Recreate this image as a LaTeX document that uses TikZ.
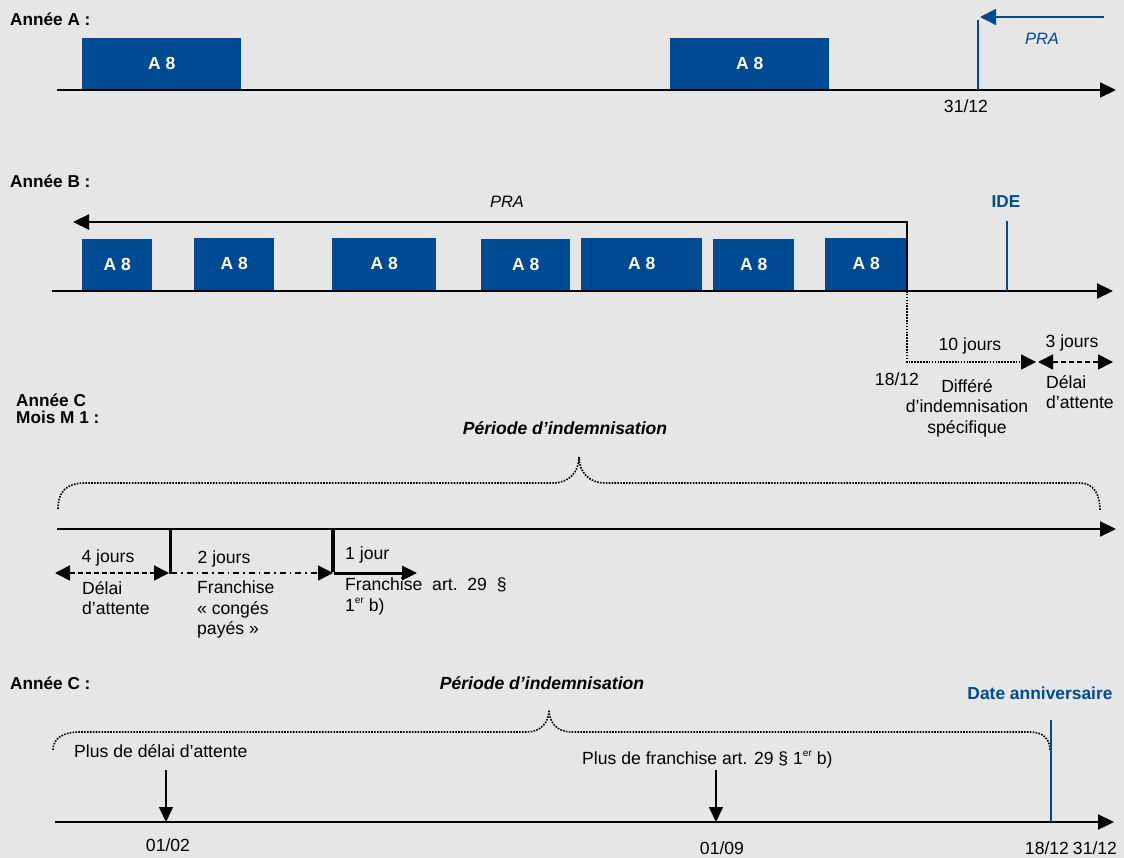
\documentclass[tikz,border=0pt]{standalone}
\usepackage{fontspec}
\setmainfont{Liberation Sans}
\usetikzlibrary{arrows.meta}
\definecolor{bg}{HTML}{E6E6E6}
\definecolor{dblue}{HTML}{004A94}
\newcommand{\erx}{\raisebox{0.45em}{\fontsize{10}{10}\selectfont er}}
\begin{document}
\begin{tikzpicture}[x=1pt,y=-1pt,
  font=\fontsize{17.6}{20.5}\selectfont,
  axis/.style={line width=2.2pt,-{Triangle[length=16pt,width=15pt]}},
  blk/.style={fill=dblue,draw=none,inner sep=0pt,anchor=south west,text=white,font=\fontsize{17.5}{20}\selectfont\bfseries},
  head/.style={font=\fontsize{17.2}{19}\selectfont\bfseries,anchor=base west,inner sep=0pt},
  lbl/.style={anchor=base,inner sep=0pt},
  lblw/.style={anchor=base west,inner sep=0pt},
  dots/.style={line width=1.6pt,dash pattern=on 1.6pt off 1.3pt},
]
\fill[bg] (0,0) rectangle (1124,858);
\useasboundingbox (0,0) rectangle (1124,858);

% ---------------- Annee A
\node[head] (tA) at (10,26) {Année A :};
\node[blk,minimum width=159pt,minimum height=52pt] (a1) at (82,90) {A 8};
\node[blk,minimum width=159pt,minimum height=52pt] (a2) at (670,90) {A 8};
\coordinate (A0) at (57,90);
\coordinate (A1) at (1116,90);
\draw[axis] (A0) -- (A1);
\coordinate (Ab) at (978,90);
\coordinate (At) at (978,20);
\draw[dblue,line width=2.2pt] (Ab) -- (At);
\coordinate (Ps) at (1104,17);
\coordinate (Pe) at (980,17);
\draw[dblue,line width=1.6pt,-{Triangle[length=16pt,width=16pt]}] (Ps) -- (Pe);
\node[lbl,text=dblue,font=\fontsize{16.5}{19}\selectfont\itshape] (pA) at (1042,45) {PRA};
\node[lbl] (d3112a) at (966,113) {31/12};

% ---------------- Annee B
\node[head] (tB) at (10,188) {Année B :};
\node[blk,minimum width=70pt,minimum height=51pt] (b1) at (82,290) {A 8};
\node[blk,minimum width=80pt,minimum height=52pt] (b2) at (194,290) {A 8};
\node[blk,minimum width=104pt,minimum height=52pt] (b3) at (332,290) {A 8};
\node[blk,minimum width=89pt,minimum height=51pt] (b4) at (481,290) {A 8};
\node[blk,minimum width=121pt,minimum height=52pt] (b5) at (581,290) {A 8};
\node[blk,minimum width=81pt,minimum height=51pt] (b6) at (713,290) {A 8};
\node[blk,minimum width=82pt,minimum height=52pt] (b7) at (825,290) {A 8};
\coordinate (B0) at (52,291);
\coordinate (B1) at (1113,291);
\draw[axis] (B0) -- (B1);
\coordinate (Bv) at (907,291);
\coordinate (Bc) at (907,222);
\coordinate (Bt) at (73,222);
\draw[line width=2.2pt,-{Triangle[length=16pt,width=15pt]}] (Bv) -- (Bc) -- (Bt);
\node[lbl,font=\fontsize{16.5}{19}\selectfont\itshape] (pB) at (507,208) {PRA};
\node[lbl,text=dblue,font=\fontsize{17.2}{19}\selectfont\bfseries] (ide) at (1006,208) {IDE};
\coordinate (Ib) at (1007,291);
\coordinate (It) at (1007,221);
\draw[dblue,line width=2.6pt] (Ib) -- (It);
\coordinate (Dc) at (907,362);
\coordinate (De) at (1036,362);
\draw[dots,-{Triangle[length=15pt,width=15pt]}] (Bv) -- (Dc) -- (De);
\coordinate (Ts) at (1038,362);
\coordinate (Te) at (1113,362);
\draw[line width=1.6pt,dash pattern=on 5pt off 3pt,{Triangle[length=15pt,width=15pt]}-{Triangle[length=15pt,width=15pt]}] (Ts) -- (Te);
\node[lbl] (j10) at (970,351) {10 jours};
\node[lbl] (j3) at (1072,348) {3 jours};
\node[lbl] (d1812b) at (897,385) {18/12};
\node[lbl,align=center,anchor=north] (diff) at (967,379) {Différé\\d’indemnisation\\spécifique};
\node[lbl,align=left,anchor=north west] (delB) at (1046,375) {Délai\\d’attente};

% ---------------- Annee C mois M1
\node[head,align=left,anchor=north west] (tC1) at (16,394) {Année C\\[-2pt]Mois M 1 :};
\node[lbl,font=\fontsize{17.6}{20}\selectfont\bfseries\itshape] (per1) at (565,434) {Période d’indemnisation};
\draw[dots] (58,509) .. controls (58,492) and (66,483) .. (85,483) -- (553,483)
  .. controls (569,483) and (579,472) .. (579,457)
  .. controls (579,472) and (589,483) .. (605,483) -- (1080,483)
  .. controls (1094,483) and (1100,495) .. (1100,510);
\coordinate (C0) at (57,529);
\coordinate (C1) at (1116,529);
\draw[axis] (C0) -- (C1);
\coordinate (v1t) at (170,529);
\coordinate (v1b) at (170,574);
\draw[line width=3pt] (v1t) -- (v1b);
\coordinate (v2t) at (333,529);
\coordinate (v2b) at (333,572);
\draw[line width=4pt] (v2t) -- (v2b);
\coordinate (q0) at (55,573);
\coordinate (q1) at (169,573);
\draw[line width=1.6pt,dash pattern=on 5pt off 3pt,{Triangle[length=15pt,width=15pt]}-{Triangle[length=15pt,width=15pt]}] (q0) -- (q1);
\coordinate (q2) at (171,573);
\coordinate (q3) at (333,573);
\draw[line width=1.4pt,dash pattern=on 6pt off 4pt on 1.5pt off 4pt,-{Triangle[length=15pt,width=15pt]}] (q2) -- (q3);
\coordinate (q4) at (334,573);
\coordinate (q5) at (417,573);
\draw[line width=3pt,-{Triangle[length=15pt,width=14pt]}] (q4) -- (q5);
\node[lbl] (j4) at (108,562) {4 jours};
\node[lbl] (j2) at (224,563) {2 jours};
\node[lblw] (j1) at (345,559) {1 jour};
\node[lblw,align=left,anchor=north west] (delC) at (82,581) {Délai\\d’attente};
\node[lblw,align=left,anchor=north west] (fcp) at (197,581) {Franchise\\«~congés\\payés~»};
\node[lblw,align=left,anchor=north west] (f29) at (345,578) {Franchise\ \ art.\ \ 29\ \ §\\1\erx{} b)};

% ---------------- Annee C
\node[head] (tC) at (10,689) {Année C :};
\node[lbl,font=\fontsize{17.6}{20}\selectfont\bfseries\itshape] (per2) at (542,689) {Période d’indemnisation};
\node[lbl,text=dblue,font=\fontsize{17.4}{19}\selectfont\bfseries] (dann) at (1040,699) {Date anniversaire};
\draw[dots] (53,750) .. controls (53,739) and (62,732) .. (80,732) -- (527,732)
  .. controls (541,732) and (549,722) .. (549,710)
  .. controls (549,722) and (557,732) .. (571,732) -- (1030,732)
  .. controls (1044,732) and (1050,740) .. (1050,750);
\node[lblw] (pd) at (74,757) {Plus de délai d’attente};
\node[lblw] (pf) at (582,764) {Plus de franchise art. 29 § 1\erx{} b)};
\coordinate (E0) at (55,822);
\coordinate (E1) at (1114,822);
\draw[axis] (E0) -- (E1);
\coordinate (r1t) at (166,770);
\coordinate (r1b) at (166,822);
\draw[line width=1.6pt,-{Triangle[length=15pt,width=14pt]}] (r1t) -- (r1b);
\coordinate (r2t) at (716,770);
\coordinate (r2b) at (716,822);
\draw[line width=1.6pt,-{Triangle[length=15pt,width=14pt]}] (r2t) -- (r2b);
\coordinate (Lb) at (1051,822);
\coordinate (Lt) at (1051,720);
\draw[dblue,line width=2.6pt] (Lb) -- (Lt);
\node[lbl] (d0102) at (168,851) {01/02};
\node[lbl] (d0109) at (722,854) {01/09};
\node[lbl] (d1812c) at (1047,854) {18/12};
\node[lbl] (d3112c) at (1095,854) {31/12};
\end{tikzpicture}
\end{document}
